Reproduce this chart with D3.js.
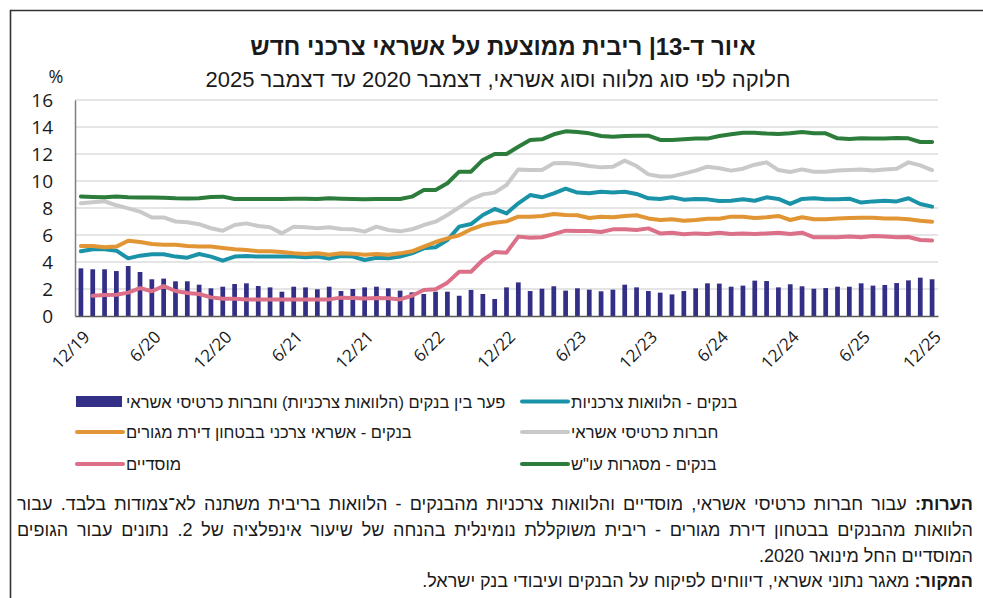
<!DOCTYPE html>
<html>
<head>
<meta charset="utf-8">
<script src="https://cdn.jsdelivr.net/npm/d3@7"></script>
<style>
  body { margin: 0; background: #fff; }
  svg text { fill: #1a1a1a; }
</style>
</head>
<body>
<div id="chart"></div>
<script>
// months 12/19 .. 12/25 (73 points)
var months = d3.range(73);
var tickLabels = ["12/19", "6/20", "12/20", "6/21", "12/21", "6/22", "12/22", "6/23", "12/23", "6/24", "12/24", "6/25", "12/25"];
var yTicks = [0, 2, 4, 6, 8, 10, 12, 14, 16];

// gap banks (consumer loans) vs credit card companies - bars
var gapBars = [3.53, 3.46, 3.46, 3.33, 3.70, 3.26, 2.72, 2.77, 2.57, 2.57, 2.32, 2.05, 2.17, 2.37, 2.42, 2.22, 2.12, 1.80, 2.17, 2.12,
  1.98, 2.17, 1.85, 2.00, 2.12, 2.17, 2.05, 1.88, 1.75, 1.63, 1.80, 1.80, 1.50, 1.93, 1.63, 1.26, 2.12, 2.49, 1.85, 2.02,
  2.20, 1.88, 2.05, 1.95, 1.83, 1.95, 2.32, 2.12, 1.85, 1.73, 1.60, 1.85, 2.05, 2.42, 2.40, 2.17, 2.25, 2.62, 2.59, 2.12,
  2.35, 2.20, 2.02, 2.07, 2.17, 2.17, 2.42, 2.25, 2.30, 2.44, 2.64, 2.84, 2.72];

var banksConsumer = [4.79, 4.94, 4.94, 4.84, 4.27, 4.47, 4.57, 4.57, 4.40, 4.32, 4.59, 4.40, 4.10, 4.40, 4.44, 4.40, 4.40, 4.40, 4.40, 4.35,
  4.40, 4.25, 4.44, 4.40, 4.15, 4.32, 4.27, 4.40, 4.64, 5.01, 5.09, 5.63, 6.62, 6.81, 7.48, 7.93, 7.60, 8.35, 8.96, 8.79,
  9.09, 9.43, 9.14, 9.09, 9.21, 9.14, 9.21, 9.04, 8.72, 8.67, 8.79, 8.62, 8.67, 8.64, 8.52, 8.54, 8.64, 8.54, 8.79, 8.67,
  8.30, 8.67, 8.72, 8.64, 8.64, 8.69, 8.40, 8.49, 8.54, 8.49, 8.72, 8.30, 8.10];

var cardCompanies = [8.35, 8.42, 8.50, 8.20, 7.97, 7.73, 7.30, 7.30, 7.00, 6.94, 6.80, 6.50, 6.32, 6.74, 6.86, 6.67, 6.57, 6.12, 6.62, 6.57,
  6.50, 6.57, 6.44, 6.42, 6.25, 6.62, 6.37, 6.27, 6.42, 6.74, 6.99, 7.48, 8.05, 8.64, 9.01, 9.14, 9.70, 10.86, 10.81, 10.81,
  11.31, 11.33, 11.26, 11.11, 11.01, 11.06, 11.51, 11.11, 10.49, 10.34, 10.34, 10.55, 10.77, 11.06, 10.94, 10.77, 10.91, 11.21, 11.38, 10.81,
  10.67, 10.86, 10.69, 10.69, 10.77, 10.81, 10.86, 10.77, 10.86, 10.91, 11.38, 11.16, 10.81];

var banksMortgage = [5.19, 5.19, 5.09, 5.14, 5.58, 5.48, 5.33, 5.28, 5.28, 5.19, 5.14, 5.14, 5.04, 4.94, 4.89, 4.79, 4.79, 4.74, 4.64, 4.59,
  4.64, 4.54, 4.64, 4.62, 4.54, 4.59, 4.54, 4.64, 4.79, 5.14, 5.48, 5.75, 5.98, 6.42, 6.74, 6.91, 7.01, 7.36, 7.36, 7.41,
  7.56, 7.48, 7.46, 7.26, 7.36, 7.31, 7.41, 7.46, 7.23, 7.11, 7.16, 7.06, 7.11, 7.21, 7.21, 7.36, 7.36, 7.26, 7.31, 7.41,
  7.11, 7.31, 7.16, 7.16, 7.23, 7.26, 7.28, 7.28, 7.23, 7.23, 7.16, 7.06, 6.99];

var institutional = [null, 1.50, 1.56, 1.58, 1.73, 2.07, 1.83, 2.22, 1.85, 1.70, 1.63, 1.38, 1.28, 1.28, 1.23, 1.23, 1.23, 1.23, 1.23, 1.23,
  1.23, 1.23, 1.36, 1.33, 1.30, 1.33, 1.31, 1.23, 1.50, 1.93, 1.98, 2.47, 3.28, 3.28, 4.15, 4.74, 4.69, 5.88, 5.80, 5.83,
  6.07, 6.32, 6.30, 6.30, 6.22, 6.42, 6.42, 6.37, 6.49, 6.12, 6.17, 6.05, 6.12, 6.07, 6.17, 6.07, 6.12, 6.07, 6.12, 6.17,
  6.07, 6.17, 5.83, 5.83, 5.83, 5.88, 5.83, 5.93, 5.88, 5.83, 5.85, 5.63, 5.60];

var banksOverdraft = [8.85, 8.82, 8.80, 8.85, 8.80, 8.78, 8.78, 8.76, 8.72, 8.70, 8.72, 8.82, 8.84, 8.67, 8.67, 8.67, 8.67, 8.67, 8.69, 8.69,
  8.67, 8.72, 8.69, 8.67, 8.64, 8.67, 8.67, 8.67, 8.84, 9.33, 9.33, 9.83, 10.69, 10.69, 11.56, 12.00, 12.00, 12.54, 13.04, 13.09,
  13.46, 13.68, 13.63, 13.53, 13.33, 13.28, 13.33, 13.36, 13.36, 13.04, 13.04, 13.10, 13.14, 13.14, 13.33, 13.46, 13.58, 13.58, 13.51, 13.48,
  13.53, 13.63, 13.53, 13.53, 13.16, 13.11, 13.16, 13.14, 13.14, 13.19, 13.16, 12.89, 12.89];

var hebFont = "'Liberation Sans', 'DejaVu Sans', sans-serif";
var numFont = "'Open Sans', 'DejaVu Sans', sans-serif";

var W = 983, H = 598;
var svg = d3.select("#chart").append("svg")
    .attr("width", W)
    .attr("height", H);

// frame (top + left)
svg.append("path")
    .attr("d", "M10.5,598 V10.5 H983")
    .attr("fill", "none")
    .attr("stroke", "#333")
    .attr("stroke-width", 1.6);

// titles
svg.append("text")
    .attr("x", 503).attr("y", 55)
    .attr("text-anchor", "middle")
    .attr("direction", "rtl")
    .style("font-family", hebFont)
    .style("font-weight", "bold")
    .style("font-size", "24px")
    .text("איור ד-13| ריבית ממוצעת על אשראי צרכני חדש");

svg.append("text")
    .attr("x", 498).attr("y", 87)
    .attr("text-anchor", "middle")
    .attr("direction", "rtl")
    .style("font-family", hebFont)
    .style("font-size", "22px")
    .text("חלוקה לפי סוג מלווה וסוג אשראי, דצמבר 2020 עד דצמבר 2025");

// scales
var margin = { left: 75, right: 938, top: 100, bottom: 316 };
var x = d3.scaleBand()
    .domain(months)
    .range([margin.left, margin.right])
    .paddingInner(0.6)
    .paddingOuter(0.3);
var xc = function(i) { return x(i) + x.bandwidth() / 2; };
var y = d3.scaleLinear()
    .domain([0, 16])
    .range([margin.bottom, margin.top]);

// gridlines
svg.append("g")
    .selectAll("line")
    .data(yTicks.filter(function(d) { return d > 0; }))
    .enter().append("line")
    .attr("x1", margin.left).attr("x2", margin.right)
    .attr("y1", function(d) { return y(d); })
    .attr("y2", function(d) { return y(d); })
    .attr("stroke", "#dcdcdc")
    .attr("stroke-width", 1.5);

// y axis labels
var yAxis = d3.axisLeft(y).tickValues(yTicks).tickSize(0).tickPadding(22);
var gy = svg.append("g")
    .attr("transform", "translate(" + margin.left + ",0)")
    .call(yAxis);
gy.select(".domain").attr("stroke", "#7f7f7f").attr("stroke-width", 1.5);
gy.selectAll("text")
    .style("font-family", numFont)
    .style("font-size", "19px")
    .attr("fill", "#1a1a1a");

svg.append("text")
    .attr("x", 56).attr("y", 83)
    .attr("text-anchor", "middle")
    .style("font-family", numFont)
    .style("font-size", "18px")
    .text("%");

// bars
svg.append("g")
    .selectAll("rect")
    .data(gapBars)
    .enter().append("rect")
    .attr("x", function(d, i) { return x(i); })
    .attr("width", x.bandwidth())
    .attr("y", function(d) { return y(d); })
    .attr("height", function(d) { return y(0) - y(d); })
    .attr("fill", "#332f86");

// x axis
var xAxis = d3.axisBottom(x)
    .tickValues(d3.range(0, 73, 6))
    .tickSize(0)
    .tickFormat(function(d) { return tickLabels[d / 6]; });
var gx = svg.append("g")
    .attr("transform", "translate(0," + margin.bottom + ")")
    .call(xAxis);
gx.select(".domain").attr("stroke", "#595959").attr("stroke-width", 1.5);
gx.selectAll("text")
    .style("font-family", numFont)
    .style("font-size", "17px")
    .attr("fill", "#1a1a1a")
    .style("text-anchor", "end")
    .attr("dy", 0)
    .attr("y", 0)
    .attr("transform", "translate(10,22) rotate(-45)");

// lines
var series = [
  { name: "בנקים - הלוואות צרכניות", values: banksConsumer, color: "#1a93a8" },
  { name: "חברות כרטיסי אשראי", values: cardCompanies, color: "#c9c9c9" },
  { name: "בנקים - אשראי צרכני בבטחון דירת מגורים", values: banksMortgage, color: "#e19534" },
  { name: "מוסדיים", values: institutional, color: "#dc7088" },
  { name: "בנקים - מסגרות עו\"ש", values: banksOverdraft, color: "#2c7d3b" }
];

var line = d3.line()
    .defined(function(d) { return d !== null; })
    .x(function(d, i) { return xc(i); })
    .y(function(d) { return y(d); });

svg.append("g")
    .selectAll("path")
    .data(series)
    .enter().append("path")
    .attr("d", function(s) { return line(s.values); })
    .attr("fill", "none")
    .attr("stroke", function(s) { return s.color; })
    .attr("stroke-width", 4)
    .attr("stroke-linejoin", "round")
    .attr("stroke-linecap", "round");

// legend
var legendItems = [
  { name: "פער בין בנקים (הלוואות צרכניות) וחברות כרטיסי אשראי", color: "#332f86", bar: true, col: 0, row: 0 },
  { name: series[0].name, color: series[0].color, col: 1, row: 0 },
  { name: series[2].name, color: series[2].color, col: 0, row: 1 },
  { name: series[1].name, color: series[1].color, col: 1, row: 1 },
  { name: series[3].name, color: series[3].color, col: 0, row: 2 },
  { name: series[4].name, color: series[4].color, col: 1, row: 2 }
];
var colX = [76, 521];
var rowY = [401.5, 432, 464];

var lg = svg.append("g").selectAll("g")
    .data(legendItems)
    .enter().append("g")
    .attr("transform", function(d) { return "translate(" + colX[d.col] + "," + rowY[d.row] + ")"; });

lg.filter(function(d) { return d.bar; }).append("rect")
    .attr("x", 0).attr("y", -5.5)
    .attr("width", 46).attr("height", 11)
    .attr("fill", function(d) { return d.color; });
lg.filter(function(d) { return !d.bar; }).append("line")
    .attr("x1", 1).attr("x2", 47)
    .attr("stroke", function(d) { return d.color; })
    .attr("stroke-width", 4)
    .attr("stroke-linecap", "round");
lg.append("text")
    .attr("x", 50).attr("y", 6)
    .attr("direction", "rtl")
    .attr("text-anchor", "end")
    .style("font-family", hebFont)
    .style("font-size", "16.5px")
    .text(function(d) { return d.name; });

// notes
var notes = [
  { bold: "הערות:", text: " עבור חברות כרטיסי אשראי, מוסדיים והלוואות צרכניות מהבנקים - הלוואות בריבית משתנה לא־צמודות בלבד. עבור", y: 510, justify: true },
  { bold: "", text: "הלוואות מהבנקים בבטחון דירת מגורים - ריבית משוקללת נומינלית בהנחה של שיעור אינפלציה של 2. נתונים עבור הגופים", y: 536, justify: true },
  { bold: "", text: "המוסדיים החל מינואר 2020.", y: 562, justify: false },
  { bold: "המקור:", text: " מאגר נתוני אשראי, דיווחים לפיקוח על הבנקים ועיבודי בנק ישראל.", y: 587, justify: false }
];
var noteRight = 973, noteLeft = 17;
notes.forEach(function(n) {
  var t = svg.append("text")
      .attr("x", noteRight).attr("y", n.y)
      .attr("direction", "rtl")
      .attr("text-anchor", "start")
      .style("font-family", hebFont)
      .style("font-size", "18px");
  if (n.bold) t.append("tspan").style("font-weight", "bold").text(n.bold);
  t.append("tspan").text(n.text);
  if (n.justify) {
    var full = (n.bold + n.text);
    var spaces = (full.match(/ /g) || []).length;
    var w = t.node().getComputedTextLength();
    var extra = (noteRight - noteLeft - w) / spaces;
    t.style("word-spacing", extra + "px");
  }
});
</script>
</body>
</html>
